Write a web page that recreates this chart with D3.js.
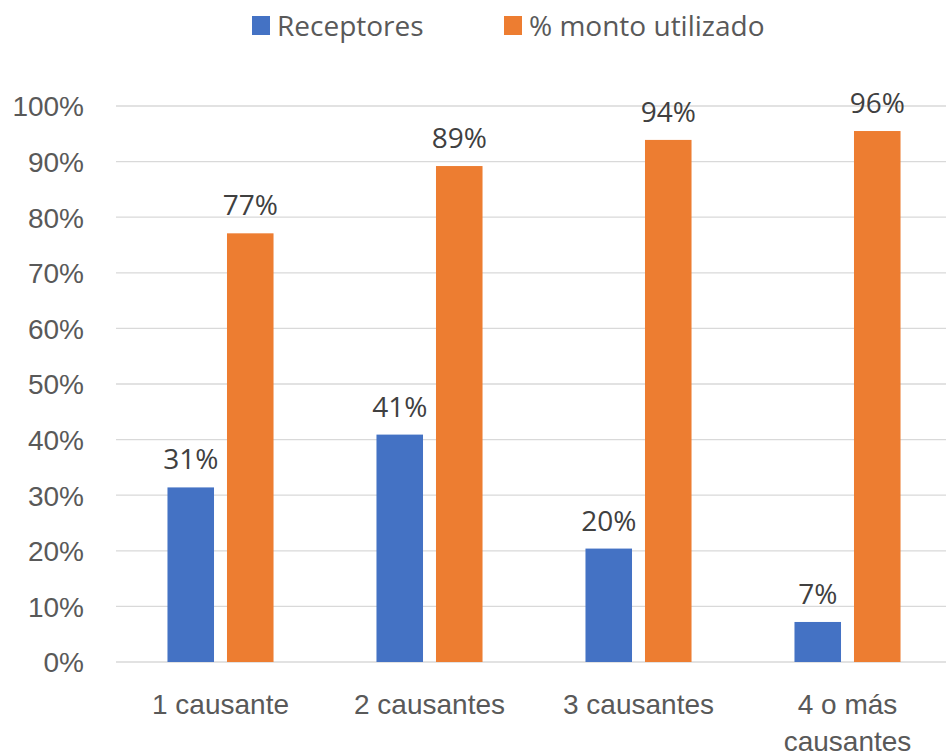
<html>
<head>
<script src="https://cdn.jsdelivr.net/npm/d3@7"></script>
<style>
  body { margin: 0; background: #fff; }
  svg { display: block; font-family: 'Open Sans', sans-serif; }
  .tick-label { font-size: 28px; fill: #595959; }
  .value { font-size: 28px; fill: #404040; }
  .legend-text { font-size: 28px; fill: #595959; }
  .grid line { stroke: #d9d9d9; stroke-width: 1.3; }
</style>
</head>
<body>
<svg width="946" height="756"></svg>
<script>
const categories = ['1 causante', '2 causantes', '3 causantes', '4 o más causantes'];
const seriesNames = ['Receptores', '% monto utilizado'];
const receptores = [0.314, 0.409, 0.204, 0.072];
const montoUtilizado = [0.771, 0.892, 0.939, 0.955];
const labelsReceptores = ['31%', '41%', '20%', '7%'];
const labelsMonto = ['77%', '89%', '94%', '96%'];
const yTicks = [0, 0.1, 0.2, 0.3, 0.4, 0.5, 0.6, 0.7, 0.8, 0.9, 1.0];
const colors = ['#4472c4', '#ed7d31'];

const rows = categories.map((c, i) => ({
  cat: c,
  vals: [
    { s: seriesNames[0], v: receptores[i], label: labelsReceptores[i] },
    { s: seriesNames[1], v: montoUtilizado[i], label: labelsMonto[i] }
  ]
}));

const svg = d3.select('svg');

const x = d3.scaleBand()
  .domain(categories)
  .range([116, 952])
  .padding(0);

const xSub = d3.scaleBand()
  .domain(seriesNames)
  .range([0, x.bandwidth()])
  .paddingInner(0.218)
  .paddingOuter(0.865);

const y = d3.scaleLinear()
  .domain([0, 1])
  .range([662, 106]);

const color = d3.scaleOrdinal().domain(seriesNames).range(colors);

// gridlines
svg.append('g')
  .attr('class', 'grid')
  .selectAll('line')
  .data(yTicks)
  .enter()
  .append('line')
  .attr('x1', 116)
  .attr('x2', 946)
  .attr('y1', d => y(d))
  .attr('y2', d => y(d));

// y labels
const yAxis = svg.append('g')
  .attr('transform', 'translate(84,0)')
  .call(d3.axisLeft(y).tickValues(yTicks).tickFormat(d3.format('.0%')).tickSize(0).tickPadding(0));
yAxis.select('.domain').remove();
yAxis.selectAll('text')
  .attr('class', 'tick-label')
  .attr('font-size', null)
  .attr('font-family', null)
  .attr('fill', null)
  .attr('dy', '0.35em');

// bars
const groups = svg.selectAll('.group')
  .data(rows)
  .enter()
  .append('g')
  .attr('class', 'group')
  .attr('transform', d => `translate(${x(d.cat)},0)`);

groups.selectAll('rect')
  .data(d => d.vals)
  .enter()
  .append('rect')
  .attr('x', d => xSub(d.s))
  .attr('y', d => y(d.v))
  .attr('width', xSub.bandwidth())
  .attr('height', d => y(0) - y(d.v))
  .attr('fill', d => color(d.s));

groups.selectAll('text.value')
  .data(d => d.vals)
  .enter()
  .append('text')
  .attr('class', 'value')
  .attr('x', d => xSub(d.s) + xSub.bandwidth() / 2)
  .attr('y', d => y(d.v) - 18)
  .attr('text-anchor', 'middle')
  .text(d => d.label);

// x labels
const xAxis = svg.append('g')
  .attr('transform', `translate(0,${y(0)})`)
  .call(d3.axisBottom(x).tickSize(0).tickPadding(0));
xAxis.select('.domain').remove();
xAxis.selectAll('text')
  .attr('class', 'tick-label')
  .attr('font-size', null)
  .attr('font-family', null)
  .attr('fill', null)
  .attr('y', 52)
  .attr('dy', 0)
  .call(wrap, 190);

function wrap(texts, width) {
  texts.each(function () {
    const text = d3.select(this);
    const words = text.text().split(/\s+/);
    const yy = text.attr('y');
    text.text(null);
    let line = [];
    let lineNo = 0;
    let tspan = text.append('tspan').attr('x', 0).attr('y', yy);
    words.forEach(w => {
      line.push(w);
      tspan.text(line.join(' '));
      if (tspan.node().getComputedTextLength() > width && line.length > 1) {
        line.pop();
        tspan.text(line.join(' '));
        line = [w];
        lineNo++;
        tspan = text.append('tspan').attr('x', 0).attr('y', +yy + lineNo * 37).text(w);
      }
    });
  });
}

// legend
const legendX = [252, 504];
const legend = svg.selectAll('.legend')
  .data(seriesNames)
  .enter()
  .append('g')
  .attr('class', 'legend')
  .attr('transform', (d, i) => `translate(${legendX[i]},0)`);

legend.append('rect')
  .attr('x', 0)
  .attr('y', 16)
  .attr('width', 18)
  .attr('height', 19)
  .attr('fill', d => color(d));

legend.append('text')
  .attr('class', 'legend-text')
  .attr('x', 25)
  .attr('y', 36)
  .text(d => d);
</script>
</body>
</html>
